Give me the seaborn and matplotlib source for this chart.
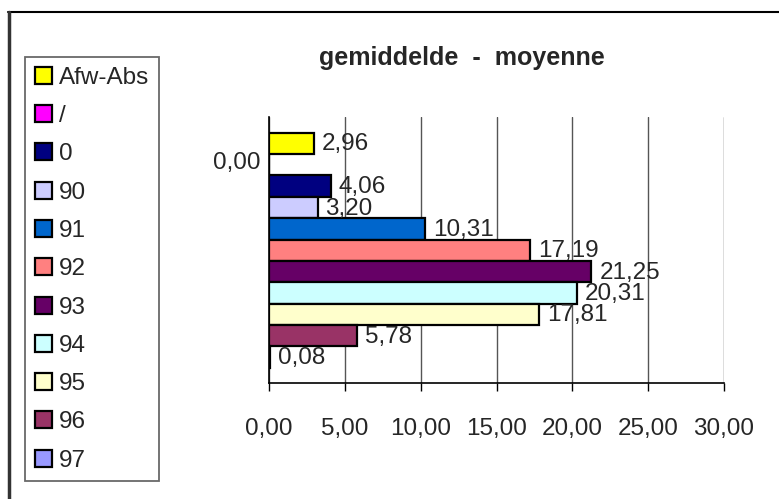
import matplotlib
matplotlib.use("Agg")
import matplotlib.pyplot as plt
from matplotlib.lines import Line2D
from matplotlib.patches import Patch
from matplotlib.ticker import FuncFormatter
import seaborn as sns
import pandas as pd

categories = ["Afw-Abs", "/", "0", "90", "91", "92", "93", "94", "95", "96", "97"]
values = [2.96, 0.00, 4.06, 3.20, 10.31, 17.19, 21.25, 20.31, 17.81, 5.78, 0.08]
colors = ["#FFFF00", "#FF00FF", "#000080", "#CCCCFF", "#0066CC", "#FF8080",
          "#660066", "#CCFFFF", "#FFFFCC", "#993366", "#9999FF"]
x_ticks = [0, 5, 10, 15, 20, 25, 30]
title = "gemiddelde  -  moyenne"

sns.set_style("white")
plt.rcParams["font.family"] = ["Liberation Sans", "DejaVu Sans"]

W, H = 779, 499
fig = plt.figure(figsize=(W / 100, H / 100), dpi=100)
ax = fig.add_axes([269 / W, 1 - 383 / H, (724 - 269) / W, (383 - 117) / H])

df = pd.DataFrame({"cat": categories, "val": values})
sns.barplot(data=df, y="cat", x="val", hue="cat", order=categories,
            hue_order=categories, palette=dict(zip(categories, colors)),
            saturation=1, orient="h", width=1.0, dodge=False, edgecolor="black",
            linewidth=1.6, legend=False, ax=ax, zorder=3)

ax.set_xlim(0, 30)
ax.set_ylim(11.22, -1.24)
ax.set_xticks(x_ticks)
ax.xaxis.set_major_formatter(FuncFormatter(lambda v, p: f"{v:.2f}".replace(".", ",")))
ax.set_yticks([])
ax.set_xlabel("")
ax.set_ylabel("")
ax.grid(axis="x", color="#555555", linewidth=1, zorder=0)
ax.grid(axis="y", visible=False)
for s in ["top", "right"]:
    ax.spines[s].set_visible(False)
for s in ["left", "bottom"]:
    ax.spines[s].set_color("black")
    ax.spines[s].set_linewidth(1.2)
ax.tick_params(axis="x", direction="out", length=6, width=1, color="black",
               labelsize=17.5, pad=19, bottom=True)

for i, v in enumerate(values):
    lab = f"{v:.2f}".replace(".", ",")
    if v == 0:
        ax.annotate(lab, (v, i), xytext=(-8, 2), textcoords="offset pixels",
                    ha="right", va="center", fontsize=17.5)
    else:
        ax.annotate(lab, (v, i), xytext=(8, -1), textcoords="offset pixels",
                    ha="left", va="center", fontsize=17.5, zorder=5)

handles = [Patch(facecolor=c, edgecolor="black", linewidth=1.6) for c in colors]
leg = fig.legend(handles, categories, loc="upper left",
                 bbox_to_anchor=(25 / W, 1 - 57 / H), fontsize=17.5,
                 frameon=True, fancybox=False, edgecolor="#444444",
                 handlelength=0.7, handleheight=0.7, handletextpad=0.3,
                 labelspacing=0.67, borderpad=0.4, borderaxespad=0)
leg.get_frame().set_linewidth(1.3)

fig.text(462 / W, 1 - 58 / H, title, ha="center", va="center",
         fontsize=18, fontweight="bold")

fig.add_artist(Line2D([8 / W, 1], [1 - 12 / H, 1 - 12 / H], color="black",
                      linewidth=1.5, transform=fig.transFigure))
fig.add_artist(Line2D([9 / W, 9 / W], [0, 1 - 12 / H], color="#333333",
                      linewidth=2.5, transform=fig.transFigure))

fig.savefig("out.png", dpi=100, facecolor="white")
